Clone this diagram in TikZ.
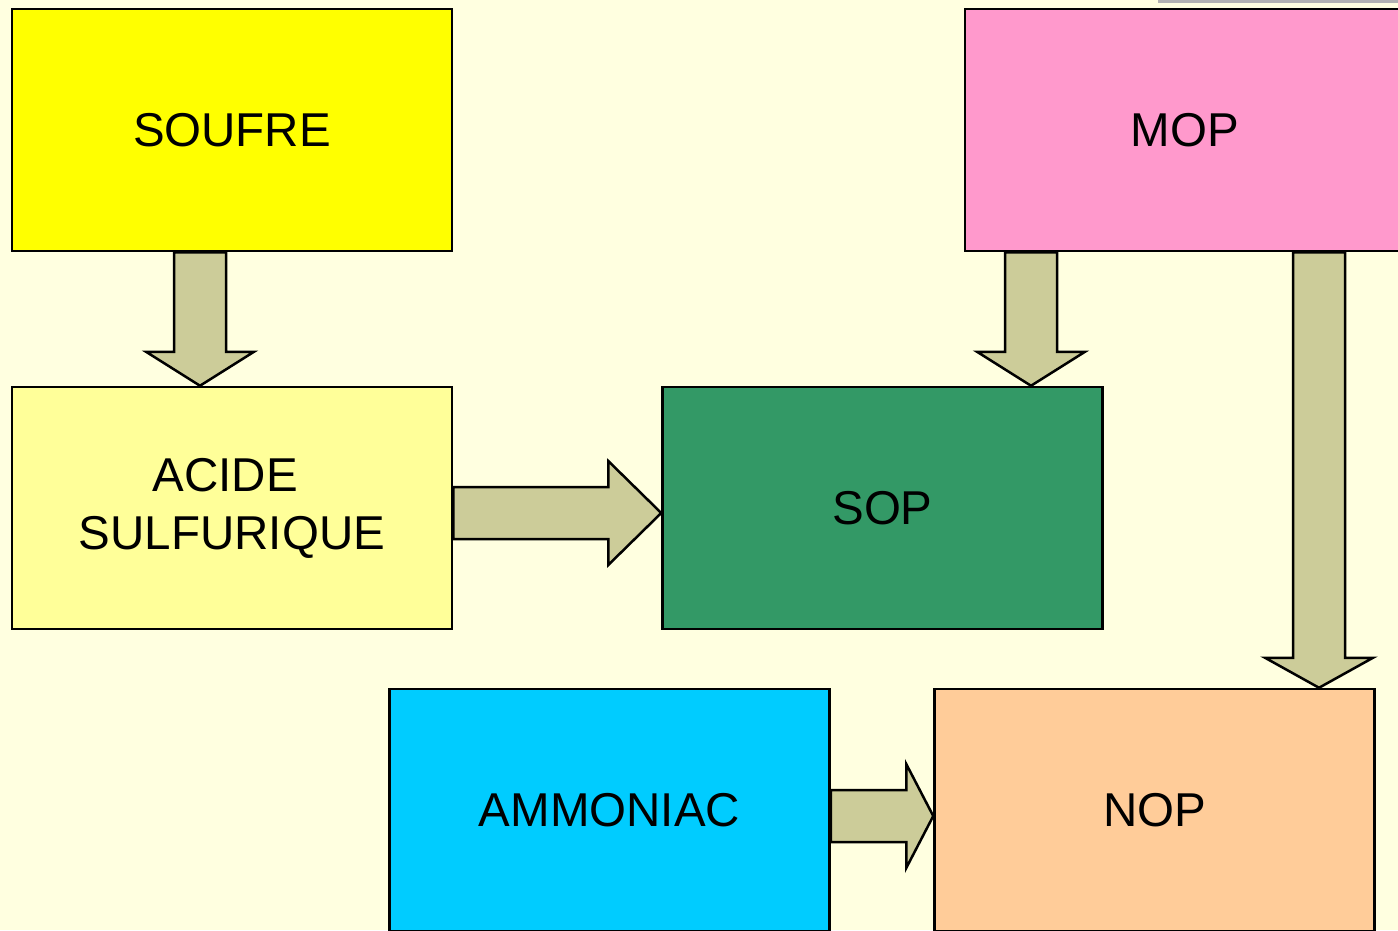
\documentclass[tikz,border=0pt]{standalone}
\usepackage{fontspec}
\setmainfont{Liberation Sans}
\usepackage{tikz}
\usetikzlibrary{calc,backgrounds}
\definecolor{fond}{RGB}{255,255,224}
\definecolor{cSoufre}{RGB}{255,255,0}
\definecolor{cMop}{RGB}{255,153,204}
\definecolor{cAcide}{RGB}{255,255,153}
\definecolor{cSop}{RGB}{51,153,102}
\definecolor{cAmmoniac}{RGB}{0,204,255}
\definecolor{cNop}{RGB}{255,204,153}
\definecolor{cFleche}{RGB}{204,204,153}
\tikzset{
  boite/.style={draw=black,line width=2.5pt,minimum width=440pt,minimum height=242pt,
    inner sep=0pt,align=center,font=\fontsize{47.5}{58}\selectfont},
  fleche/.style={draw=black,fill=cFleche,line width=2.5pt,line join=miter}
}
\newcommand{\flecheV}[3]{\draw[fleche] let \p1=(#1), \p2=(#2) in
  (\x1-26pt,\y1) -- (\x1-26pt,\y2+#3) -- (\x1-54pt,\y2+#3) -- (\x2,\y2)
  -- (\x1+54pt,\y2+#3) -- (\x1+26pt,\y2+#3) -- (\x1+26pt,\y1) -- cycle;}
\newcommand{\flecheH}[3]{\draw[fleche] let \p1=(#1), \p2=(#2) in
  (\x1,\y1+26pt) -- (\x2-#3,\y1+26pt) -- (\x2-#3,\y1+52pt) -- (\x2,\y2)
  -- (\x2-#3,\y1-52pt) -- (\x2-#3,\y1-26pt) -- (\x1,\y1-26pt) -- cycle;}
\begin{document}
\begin{tikzpicture}[x=1pt,y=-1pt]
\useasboundingbox (0,0) rectangle (1398,930);
\clip (0,0) rectangle (1398,930);
\fill[fond] (0,0) rectangle (1398,930);
\fill[gray!60] (1158,0) rectangle (1398,3);
\node[boite,fill=cSoufre] (soufre) at (232,130) {SOUFRE};
\node[boite,fill=cMop] (mop) at (1185,130) {MOP};
\node[boite,fill=cAcide] (acide) at (232,508) {ACIDE\hspace*{0.28em}\\SULFURIQUE};
\node[boite,fill=cSop] (sop) at (882.5,508) {SOP};
\node[boite,fill=cAmmoniac] (ammoniac) at (609.5,810) {AMMONIAC};
\node[boite,fill=cNop] (nop) at (1154.5,810) {NOP};
\flecheV{soufre.south -| 200,0}{acide.north -| 200,0}{34pt}
\flecheV{mop.south -| 1031,0}{sop.north -| 1031,0}{34pt}
\flecheV{mop.south -| 1319,0}{nop.north -| 1319,0}{30pt}
\flecheH{acide.east |- 0,513}{sop.west |- 0,513}{53pt}
\flecheH{ammoniac.east |- 0,816}{nop.west |- 0,816}{27pt}
\end{tikzpicture}
\end{document}
